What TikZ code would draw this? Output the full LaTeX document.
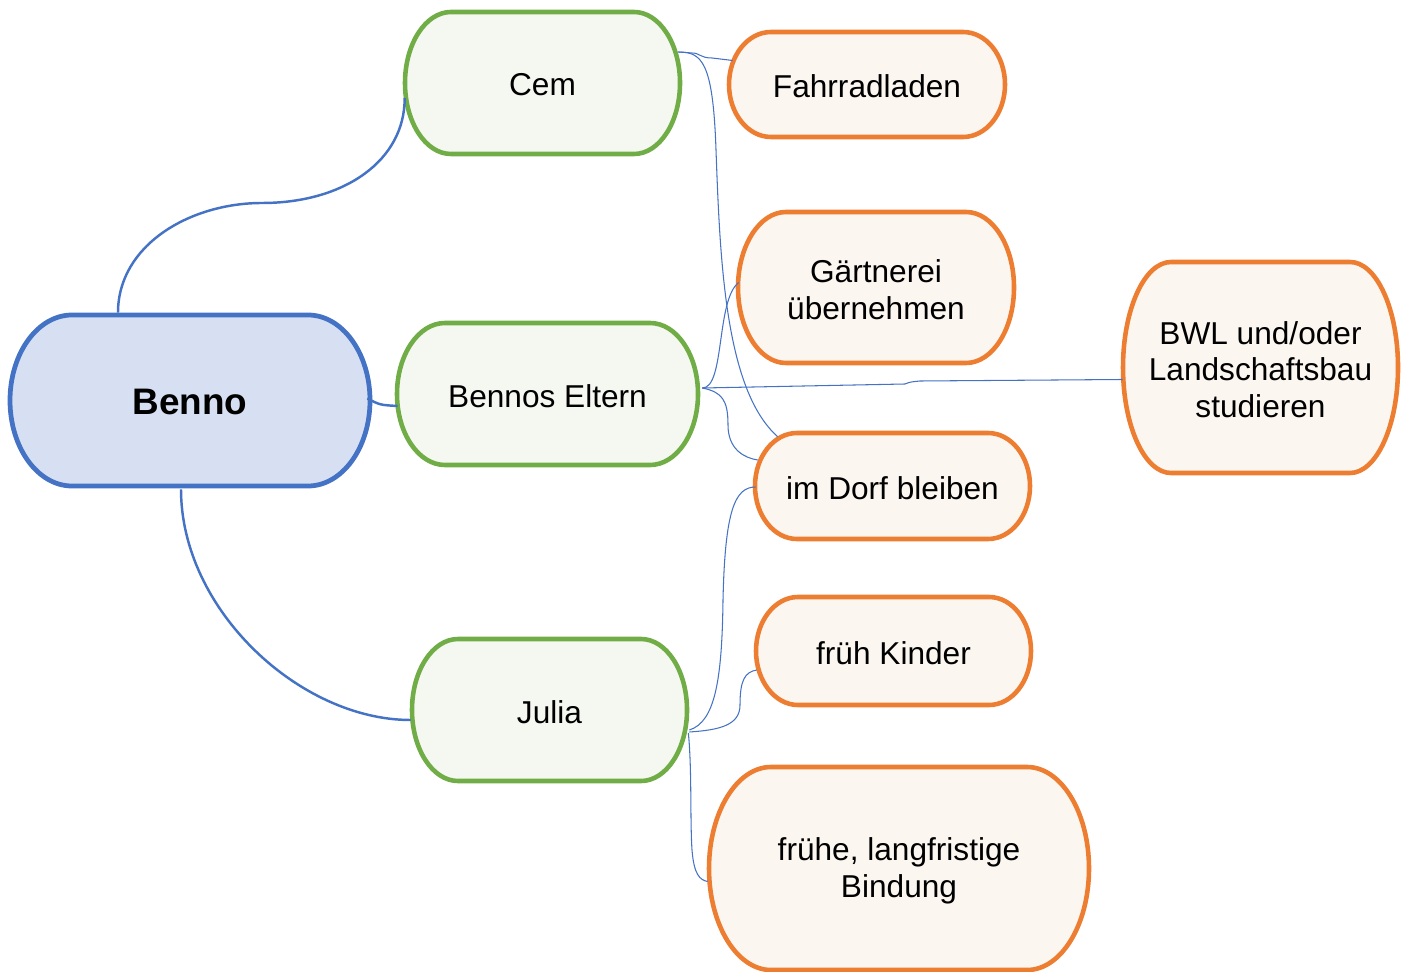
\documentclass[tikz,border=0pt]{standalone}
\usepackage{fontspec}
\setmainfont{Liberation Sans}
\usetikzlibrary{calc}
\definecolor{cblue}{HTML}{4472C4}
\definecolor{cgreen}{HTML}{70AD47}
\definecolor{corange}{HTML}{ED7D31}
\definecolor{fblue}{HTML}{D6E0F2}
\definecolor{fgreen}{HTML}{F5F8F1}
\definecolor{forange}{HTML}{FBF6F0}
\tikzset{
  rootbox/.style={draw=cblue,fill=fblue,line width=2.7pt},
  greenbox/.style={draw=cgreen,fill=fgreen,line width=2.6pt},
  orangebox/.style={draw=corange,fill=forange,line width=2.6pt},
  lbl/.style={align=center,inner sep=0pt,yshift=-1.2pt,font=\fontsize{18}{21}\selectfont},
  rootlbl/.style={align=center,inner sep=0pt,yshift=-0.6pt,font=\fontsize{21}{24}\selectfont\bfseries},
  thick link/.style={draw=cblue,line width=1.4pt},
  thin link/.style={draw=cblue,line width=0.6pt},
}
\newcommand\stad[9]{%
  \pgfmathsetmacro\sxa{#3}\pgfmathsetmacro\sya{#4}%
  \pgfmathsetmacro\sxb{#5}\pgfmathsetmacro\syb{#6}%
  \pgfmathsetmacro\srx{#7}\pgfmathsetmacro\sry{(#6-#4)/2}%
  \pgfmathsetmacro\sym{(#4+#6)/2}\pgfmathsetmacro\sxm{(#3+#5)/2}%
  \pgfmathsetmacro\skx{0.4477*\srx}\pgfmathsetmacro\sky{0.4477*\sry}%
  \pgfmathsetmacro\sw{(#5-#3)*0.02}\pgfmathsetmacro\sh{(#6-#4)*0.02}%
  \path[#2] (\sxa+\srx,\sya) -- (\sxb-\srx,\sya)
    .. controls (\sxb-\skx,\sya) and (\sxb,\sya+\sky) .. (\sxb,\sym)
    .. controls (\sxb,\syb-\sky) and (\sxb-\skx,\syb) .. (\sxb-\srx,\syb)
    -- (\sxa+\srx,\syb)
    .. controls (\sxa+\skx,\syb) and (\sxa,\syb-\sky) .. (\sxa,\sym)
    .. controls (\sxa,\sya+\sky) and (\sxa+\skx,\sya) .. cycle;
  \node[minimum width=\sw cm,minimum height=\sh cm,inner sep=0pt] (#1) at (\sxm,\sym) {};
  \node[#8] (#1-t) at (#1.center) {#9};
}
\begin{document}
\begin{tikzpicture}[x=0.02cm,y=-0.02cm]
\useasboundingbox (0,0) rectangle (1405,972);
% boxes
\stad{benno}{rootbox}{10}{315}{370}{486}{62}{rootlbl}{Benno}
\stad{cem}{greenbox}{405}{12}{680}{154}{46}{lbl}{Cem}
\stad{eltern}{greenbox}{397}{323}{698}{465}{48}{lbl}{Bennos Eltern}
\stad{julia}{greenbox}{412}{639}{687}{781}{46}{lbl}{Julia}
\stad{fahr}{orangebox}{729}{32}{1005}{137}{42}{lbl}{Fahrradladen}
\stad{gaert}{orangebox}{738}{212}{1014}{363}{48}{lbl}{Gärtnerei\\übernehmen}
\stad{bwl}{orangebox}{1123}{262}{1398}{473}{48}{lbl}{BWL und/oder\\Landschaftsbau\\studieren}
\stad{dorf}{orangebox}{755}{433}{1030}{539}{42}{lbl}{im Dorf bleiben}
\stad{kinder}{orangebox}{756}{597}{1031}{705}{42}{lbl}{früh Kinder}
\stad{bind}{orangebox}{709}{767}{1089}{970}{62}{lbl}{frühe, langfristige\\Bindung}
% links from Benno
\draw[thick link] ($(benno.north)+(-72,-2)$) .. controls (118,245) and (190,203) .. (262,203)
   .. controls (345,203) and (405,160) .. ($(cem.west)+(0,15)$);
\draw[thick link] ($(benno.east)+(-3,-2)$) .. controls (380,405) .. ($(eltern.west)+(1,12)$);
\draw[thick link] ($(benno.south)+(-9,3)$) .. controls (181,610) and (300,720) .. ($(julia.west)+(-1,10)$);
% links from Cem
\draw[thin link] ($(cem.east)+(-2,-31)$) -- (692,53) .. controls (700,53) and (700,58) .. (712,58)
   -- ($(fahr.west)+(4,-24)$);
\draw[thin link] ($(cem.east)+(-2,-31)$) .. controls (702,52) and (713,62) .. (716,150)
   .. controls (720,260) and (725,390) .. ($(dorf.north west)+(23,4)$);
% links from Bennos Eltern
\draw[thin link] ($(eltern.east)+(4,-6)$) .. controls (725,388) and (716,300) .. ($(gaert.west)+(1,-5)$);
\draw[thin link] ($(eltern.east)+(4,-6)$) -- (905,384) .. controls (910,382) .. (920,381)
   -- ($(bwl.west)+(0,12)$);
\draw[thin link] ($(eltern.east)+(4,-6)$) .. controls (722,392) and (728,400) .. (728,425)
   .. controls (728,450) and (745,458) .. ($(dorf.west)+(3,-26)$);
% links from Julia
\draw[thin link] ($(julia.east)+(2,20)$) .. controls (715,722) and (722,680) .. (723,600)
   .. controls (725,510) and (735,487) .. ($(dorf.west)+(1,1)$);
\draw[thin link] ($(julia.east)+(2,22)$) .. controls (720,730) and (740,725) .. (740,705)
   .. controls (740,680) and (745,672) .. ($(kinder.west)+(1,19)$);
\draw[thin link] ($(julia.east)+(1,23)$) .. controls (692,770) and (690,820) .. (692,850)
   .. controls (694,875) and (700,880) .. ($(bind.west)+(-1,13)$);
\end{tikzpicture}
\end{document}
